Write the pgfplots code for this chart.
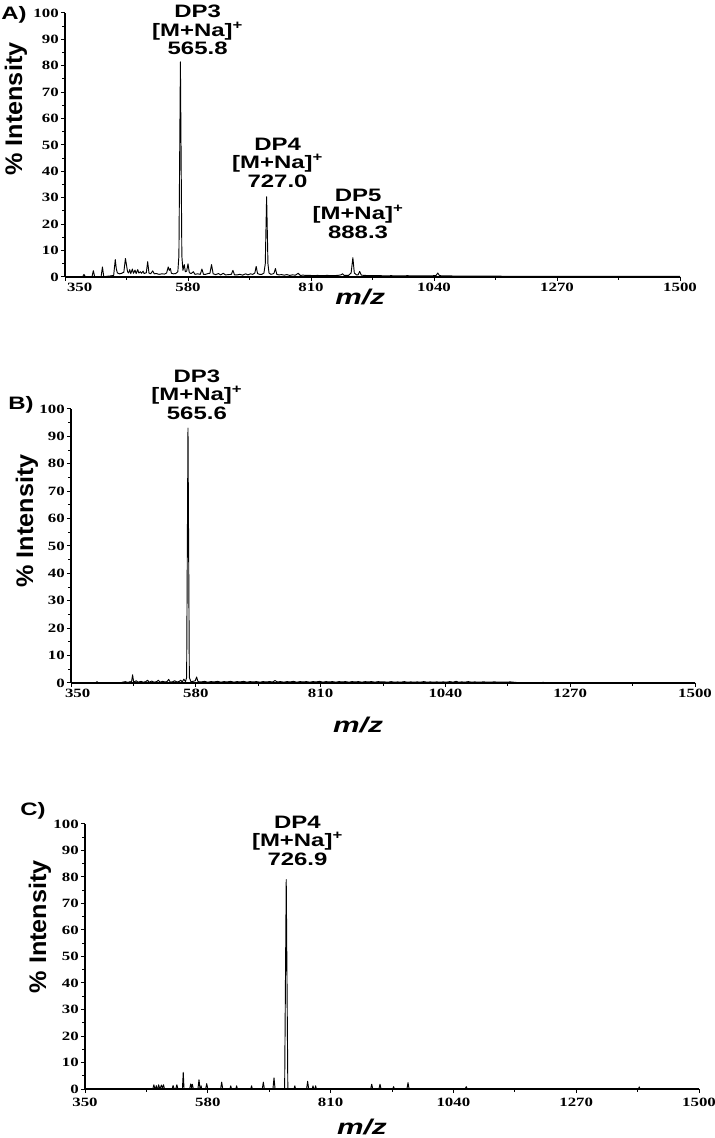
\documentclass[border=0pt]{standalone}
\usepackage{fontspec}
\usepackage{graphicx}
\usepackage{pgfplots}
\pgfplotsset{compat=1.18}
\setmainfont{Liberation Sans}
\newfontfamily\tickfont{Liberation Serif Bold}[FakeStretch=1.33]
\newfontfamily\annfont{Liberation Sans Bold}[FakeStretch=1.33]
\newfontfamily\xlabfont{Liberation Sans}[FakeStretch=1.4, BoldItalicFeatures={FakeStretch=1.4}]
\tikzset{
  ann/.style={font=\annfont\fontsize{13.5}{14}\selectfont, align=center, anchor=south, inner sep=0pt},
  spec/.style={black, line width=0.7pt, line join=round},
  plab/.style={font=\annfont\fontsize{13.5}{13.5}\selectfont},
}
\pgfplotsset{
  msaxis/.style={
    scale only axis, anchor=south west,
    xmin=350, xmax=1500, ymin=0, ymax=100,
    axis lines=left, axis line style={-, line width=1.1pt},
    xtick={350,580,810,1040,1270,1500},
    xticklabels={350,580,810,1040,1270,1500},
    ytick={0,10,...,100},
    minor x tick num=1, minor y tick num=1,
    tick align=outside, tick style={black, line width=0.75pt},
    major tick length=3pt, minor tick length=2pt,
    ticklabel style={font=\tickfont\fontsize{9.5}{9.5}\selectfont},
    /pgf/number format/assume math mode=true,
    xticklabel style={inner sep=1pt},
    yticklabel style={inner sep=1.5pt},
    ylabel={\scalebox{1.05}[1]{\% Intensity}}, xlabel={m/z},
    ylabel style={font=\bfseries\fontsize{18}{18}\selectfont, anchor=center},
    xlabel style={font=\xlabfont\bfseries\itshape\fontsize{16}{16}\selectfont, anchor=center},
    clip=false,
  },
}
\begin{document}
\begin{tikzpicture}
\path[use as bounding box] (0,0) rectangle (535.5pt,853.5pt);
% ---------------- Panel A ----------------
\begin{axis}[msaxis, at={(48.75pt,645.75pt)}, width=461.25pt, height=198pt,
  xticklabels={{\hspace*{22pt}350},580,810,1040,1270,1500},
  xlabel style={at={(axis description cs:0.48,-0.076)}},
  ylabel style={at={(axis description cs:-0.0797,0.636)}}]
\addplot[spec] coordinates {
(350,0) (383,0.1) (385.5,1.0) (388,0.1) (400.5,0.1) (403,2.4) (405.5,0.1)
(417.5,0.1) (420,3.8) (422.5,0.1) (430,0.3) (435,0.4) (441,0.6) (444,6.6)
(446,3.0) (448,1.5) (452,1.2) (456,1.4) (460,1.8) (463,7.0) (465,4.5)
(467,2.0) (469,1.5) (471,2.8) (473,1.3) (476,3.0) (478,1.4) (481,2.6)
(483,1.3) (486,2.8) (488,1.5) (491,2.0) (493,1.4) (496,2.2) (498,1.3)
(502,1.6) (504.6,5.8) (507,1.5) (510,1.2) (514,2.3) (517,1.2) (521,1.3)
(526,1.0) (531,1.2) (536,1.1) (540,1.5) (543,3.8) (545,2.5) (547,3.2)
(549,1.4) (553,1.2) (557,1.3) (561,2.0) (563,8) (565.8,81.5) (568.5,8)
(570.5,2.5) (573,4.7) (575,2.0) (577.5,2.2) (580,5.0) (582.5,1.6) (586,1.3)
(590,2.0) (593,1.0) (598,1.2) (603,1.0) (606,3.0) (609,1.0) (613,1.0)
(617,1.3) (621,1.4) (624,4.7) (627,1.2) (632,0.9) (637,1.3) (641,0.8)
(646,1.4) (650,0.8) (656,0.9) (661,1.0) (664,2.5) (667,0.8) (672,0.8)
(677,1.0) (682,0.7) (688,1.2) (692,0.8) (697,1.2) (701,1.0) (705,1.5)
(707.5,4.0) (710,1.3) (714,1.0) (718,1.0) (722,1.5) (724.5,5) (727,30.4)
(729.5,5) (731.5,1.5) (735,1.0) (739,1.2) (741,1.5) (743.5,3.2) (746,1.0)
(750,0.8) (755,0.9) (760,0.7) (765,0.9) (770,0.6) (775,0.8) (781,0.7)
(786,1.4) (790,0.6) (795,0.7) (800,0.6) (808,0.6) (815,0.5) (822,0.6)
(830,0.5) (840,0.6) (850,0.5) (860,0.6) (866,0.8) (869,1.2) (872,0.6)
(880,0.6) (885,1.5) (888.3,7.3) (891,1.5) (895,0.8) (898,0.8) (901,2.1)
(904,0.7) (910,0.6) (920,0.5) (930,0.5) (940,0.5) (950,0.4) (960,0.5)
(970,0.4) (980,0.4) (990,0.5) (1000,0.4) (1010,0.4) (1020,0.4) (1030,0.4)
(1040,0.5) (1044,0.6) (1047,1.5) (1050,0.6) (1055,0.4) (1070,0.4) (1100,0.3)
(1130,0.3) (1160,0.3) (1200,0.25) (1250,0.25) (1300,0.2) (1400,0.2) (1500,0.2)
};
\node[ann] at (axis cs:598,84) {DP3\\{[}M+Na{]}\textsuperscript{+}\\565.8};
\node[ann] at (axis cs:747.5,33.7) {DP4\\{[}M+Na{]}\textsuperscript{+}\\727.0};
\node[ann] at (axis cs:898,14.4) {DP5\\{[}M+Na{]}\textsuperscript{+}\\888.3};
\end{axis}
% ---------------- Panel B ----------------
\begin{axis}[msaxis, at={(53.25pt,341.25pt)}, width=468pt, height=205.5pt,
  xticklabels={{\hspace*{10pt}350},580,810,1040,1270,1500},
  xlabel style={at={(axis description cs:0.46,-0.153)}},
  ylabel style={at={(axis description cs:-0.0705,0.591)}}]
\addplot[spec] coordinates {
(350,0) (395,0) (398,0.5) (401,0) (440,0) (445,0.3) (450,0.5) (455,0.2)
(459,0.5) (461.5,0.3) (463.5,3.0) (465.5,0.3) (470,0.8) (474,0.3) (479,0.6)
(483,0.3) (488,0.5) (491,1.0) (494,0.3) (499,0.7) (503,0.3) (508,0.5)
(511,1.0) (514,0.3) (519,0.6) (523,0.4) (527,0.5) (530,1.3) (533,0.3)
(538,0.5) (541,0.8) (545,0.4) (549,0.5) (552,1.0) (555,0.4) (558,1.4)
(561,0.5) (563.1,2) (565.6,93) (568.1,2) (571,0.5) (575,0.6) (579,0.8)
(581.5,2.2) (584,0.5) (590,0.4) (596,0.6) (602,0.3) (608,0.5) (614,0.4)
(620,0.6) (626,0.3) (632,0.5) (638,0.4) (644,0.6) (650,0.3) (656,0.5)
(662,0.4) (668,0.6) (674,0.3) (680,0.5) (686,0.4) (692,0.5) (698,0.3)
(704,0.5) (710,0.4) (716,0.5) (722,0.4) (726,0.9) (730,0.4) (736,0.5)
(742,0.3) (748,0.5) (754,0.4) (760,0.6) (766,0.3) (772,0.5) (778,0.4)
(784,0.5) (790,0.3) (796,0.5) (802,0.4) (808,0.6) (814,0.3) (820,0.5)
(826,0.4) (832,0.5) (838,0.3) (844,0.5) (850,0.4) (856,0.5) (862,0.3)
(868,0.5) (874,0.4) (880,0.5) (886,0.3) (892,0.5) (898,0.4) (904,0.5)
(910,0.3) (916,0.5) (922,0.4) (928,0.4) (934,0.3) (940,0.5) (946,0.3)
(952,0.4) (958,0.3) (964,0.5) (970,0.3) (976,0.4) (982,0.3) (988,0.4)
(994,0.3) (1000,0.5) (1006,0.3) (1012,0.4) (1018,0.3) (1024,0.4) (1030,0.3)
(1036,0.4) (1042,0.3) (1048,0.5) (1054,0.3) (1060,0.6) (1064,0.3) (1070,0.4)
(1076,0.3) (1082,0.5) (1088,0.3) (1094,0.4) (1100,0.3) (1110,0.4) (1120,0.3)
(1130,0.4) (1140,0.3) (1150,0.3) (1160,0.4) (1170,0.2) (1180,0.1) (1200,0.1)
(1220,0.2) (1240,0.1) (1270,0.1) (1300,0.1) (1350,0.1) (1400,0.1) (1450,0.1)
(1500,0.1)
};
\node[ann] at (axis cs:582,96) {DP3\\{[}M+Na{]}\textsuperscript{+}\\565.6};
\end{axis}
% ---------------- Panel C ----------------
\begin{axis}[msaxis, at={(63.75pt,36.75pt)}, width=460.5pt, height=198.75pt,
  xticklabel style={yshift=-2.5pt},
  xlabel style={at={(axis description cs:0.451,-0.143)}},
  ylabel style={at={(axis description cs:-0.0733,0.612)}}]
\addplot[spec] coordinates {
(350,0) (477,0) (479,1.6) (481,0) (482,0) (483.5,1.3) (485,0) (486,0)
(488,1.6) (490,0) (491,0.3) (493,1.5) (495,0.3) (497,1.6) (499,0)
(513,0) (515,1.3) (517,0) (520,0) (522,1.6) (524,0) (532.5,0) (534,6.3)
(535.5,0) (546,0) (548,1.9) (549.5,0.5) (551,1.8) (553,0) (561.5,0)
(563.5,3.5) (565.5,0) (566.5,0) (567.5,1.2) (568.5,0) (576,0) (578,2.0) (580,0)
(604,0) (606,2.6) (608,0) (621.5,0) (623,1.2) (624.5,0) (632.5,0) (634,1.2)
(635.5,0) (660.5,0) (662,1.2) (663.5,0) (682,0) (684,2.6) (686,0) (702,0)
(704,4.2) (706,0) (723.9,0) (726.9,79) (729.9,0) (741.5,0) (743,1.2)
(744.5,0) (765,0) (767,2.9) (769,0) (775.5,0) (777,1.2) (778.5,0) (780.5,0)
(782,1.2) (783.5,0) (885,0) (887,1.8) (889,0) (900.5,0) (902.5,1.8)
(904.5,0) (926.5,0) (928,0.9) (929.5,0) (953,0) (955,2.4) (957,0)
(1062,0) (1064,0.9) (1066,0) (1386.5,0) (1388,0.8) (1389.5,0) (1500,0)
};
\node[ann] at (axis cs:748,84.2) {DP4\\{[}M+Na{]}\textsuperscript{+}\\726.9};
\end{axis}
% panel letters
\node[plab] at (10.5pt,842.25pt) {A)};
\node[plab] at (15.75pt,549.75pt) {B)};
\node[plab] at (24.75pt,245.25pt) {C)};
\end{tikzpicture}
\end{document}
